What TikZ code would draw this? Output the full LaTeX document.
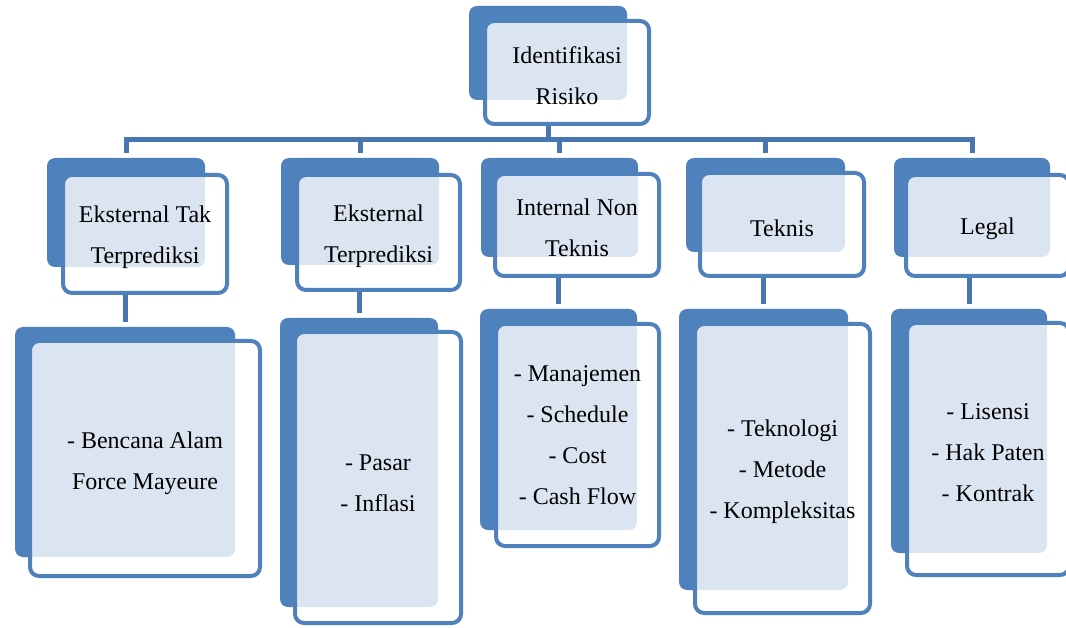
\documentclass[tikz,border=0pt]{standalone}
\usepackage{fontspec}
\setmainfont{Liberation Serif}
\usetikzlibrary{positioning}
\definecolor{riskblue}{RGB}{79,129,189}
\definecolor{linkblue}{RGB}{72,118,176}
\newcommand\capline[1][24pt]{\rule{0pt}{#1}}
\tikzset{
  bkbox/.style ={fill=riskblue, rounded corners=8pt, inner sep=0pt},
  frbox/.style ={draw=riskblue, line width=4pt, fill=white, fill opacity=0.8,
                 text opacity=1, rounded corners=9pt, inner sep=0pt, align=center,
                 font=\fontsize{24pt}{41pt}\selectfont},
  conn/.style  ={draw=linkblue, line width=5pt},
}

\begin{document}
\begin{tikzpicture}[x=1pt,y=-1pt]
  \useasboundingbox (0,0) rectangle (1066,628);
  % back cards
  \node[bkbox,minimum width=158pt,minimum height=94pt]  (riskb) at (548,53) {};
  \node[bkbox,minimum width=158pt,minimum height=109pt] (ektb)  at (126,212.5) {};
  \node[bkbox,minimum width=158pt,minimum height=107pt] (ekpb)  at (360,211.5) {};
  \node[bkbox,minimum width=157pt,minimum height=99pt]  (intb)  at (559.5,207.5) {};
  \node[bkbox,minimum width=159pt,minimum height=94pt]  (tekb)  at (765.5,205) {};
  \node[bkbox,minimum width=156pt,minimum height=99pt]  (legb)  at (972,207.5) {};
  \node[bkbox,minimum width=220pt,minimum height=230pt] (ektlb) at (125,442) {};
  \node[bkbox,minimum width=158pt,minimum height=289pt] (ekplb) at (359,462.5) {};
  \node[bkbox,minimum width=157pt,minimum height=221pt] (intlb) at (558.5,419.5) {};
  \node[bkbox,minimum width=169pt,minimum height=281pt] (teklb) at (763.5,449.5) {};
  \node[bkbox,minimum width=156pt,minimum height=244pt] (leglb) at (969,431) {};
  % front cards
  \node[frbox,minimum width=164pt,minimum height=103pt] (risk) at (567,72.5) {\capline Identifikasi\\Risiko};
  \node[frbox,minimum width=164pt,minimum height=118pt] (ekt)  at (145,234) {\capline Eksternal Tak\\Terprediksi};
  \node[frbox,minimum width=163pt,minimum height=115pt] (ekp)  at (378.5,232.5) {\capline Eksternal\\Terprediksi};
  \node[frbox,minimum width=164pt,minimum height=102pt] (int)  at (577,225) {\capline[22pt]Internal Non\\Teknis};
  \node[frbox,minimum width=164pt,minimum height=103pt] (tek)  at (782,224.5) {\capline Teknis};
  \node[frbox,minimum width=163pt,minimum height=101pt] (leg)  at (987.5,225.5) {\capline Legal};
  \node[frbox,minimum width=230pt,minimum height=235pt] (ektl) at (145,458.5) {\capline[27pt]- Bencana Alam\\Force Mayeure};
  \node[frbox,minimum width=166pt,minimum height=291pt] (ekpl) at (378,477.5) {\capline[28pt]- Pasar\\- Inflasi};
  \node[frbox,minimum width=163pt,minimum height=222pt] (intl) at (577.5,435) {- Manajemen\\- Schedule\\- Cost\\- Cash Flow};
  \node[frbox,minimum width=175pt,minimum height=289pt] (tekl) at (782.5,468.5) {\capline- Teknologi\\- Metode\\- Kompleksitas};
  \node[frbox,minimum width=162pt,minimum height=252pt] (legl) at (988,449) {\capline- Lisensi\\- Hak Paten\\- Kontrak};
  % tree lines
  \coordinate (bar) at (0,140);
  \draw[conn] (riskb |- risk.south) -- (riskb |- bar);
  \draw[conn,shorten <=5pt,shorten >=5pt] (ektb.north) |- (riskb |- bar) -| (legb.north);
  \foreach \n in {ekpb,intb,tekb}
    \draw[conn,shorten >=5pt] (\n.north |- bar) -- (\n.north);
  \draw[conn,shorten >=5pt] (ektlb |- ekt.south) -- (ektlb.north);
  \draw[conn,shorten >=5pt] (ekplb |- ekp.south) -- (ekplb.north);
  \draw[conn,shorten >=5pt] (intlb |- int.south) -- (intlb.north);
  \draw[conn,shorten >=5pt] (teklb |- tek.south) -- (teklb.north);
  \draw[conn,shorten >=5pt] (leglb |- leg.south) -- (leglb.north);
\end{tikzpicture}
\end{document}
